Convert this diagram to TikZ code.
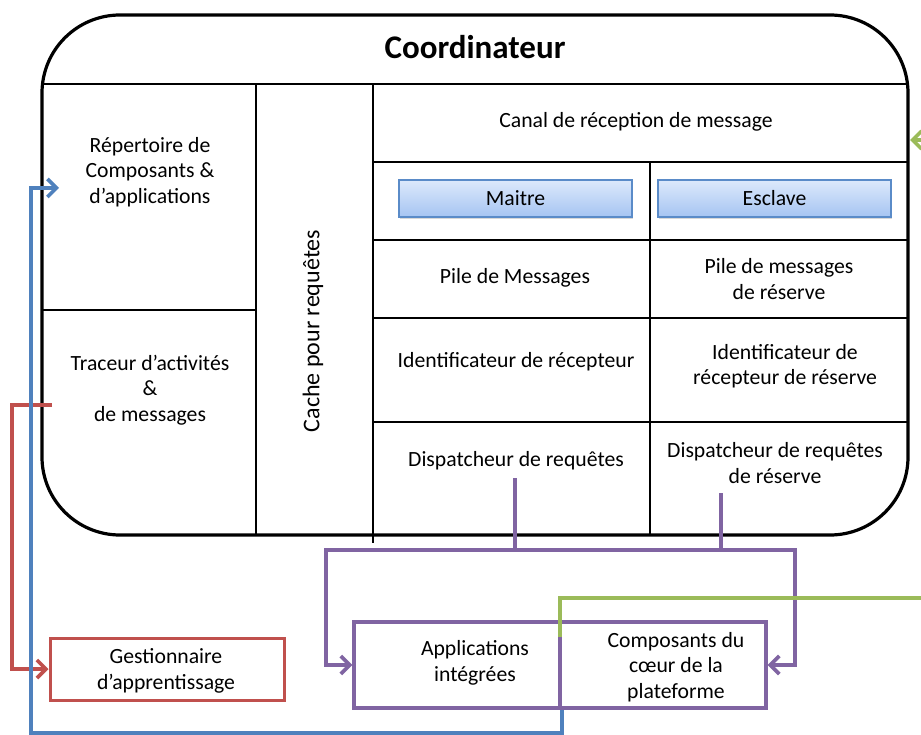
\documentclass[tikz,border=0pt]{standalone}
\usepackage{fontspec}
\setmainfont{Carlito}
\usetikzlibrary{arrows.meta,shadows}

\definecolor{ored}{HTML}{C0504D}
\definecolor{oblue}{HTML}{4F81BD}
\definecolor{opurple}{HTML}{8064A2}
\definecolor{ogreen}{HTML}{9BBB59}
\definecolor{btntop}{HTML}{DDE9FB}
\definecolor{btnbot}{HTML}{A5C4F2}
\definecolor{btnedge}{HTML}{5A8BC8}

\newcommand{\txtsize}{\fontsize{21.7}{25.5}\selectfont}

\tikzset{
  outerframe/.style={line width=3.2pt, rounded corners=78pt},
  divider/.style={line width=2pt},
  celltext/.style={align=center, font=\txtsize, inner sep=0pt},
  button/.style={draw=btnedge, line width=1.4pt, top color=btntop, bottom color=btnbot,
    minimum width=233pt, minimum height=37pt, font=\txtsize,
    drop shadow={shadow xshift=1pt, shadow yshift=-2pt, opacity=0.3}},
  outbox/.style={line width=3.4pt, minimum height=86pt},
  conn/.style={line width=3.6pt, -{Straight Barb[length=9pt,width=18pt]}},
  bus/.style={line width=3.6pt, draw=opurple},
}

\begin{document}
\begin{tikzpicture}[x=1pt, y=-1pt]
  \useasboundingbox (0,0) rectangle (921,735);
  \fill[white] (0,0) rectangle (921,735);
  \clip (0,0) rectangle (921,735);

  % coordinator frame and its grid
  \draw[outerframe] (42,15) rectangle (908,535);
  \draw[divider] (42,84) -- (908,84);
  \draw[divider] (256,84) -- (256,535);
  \draw[divider] (373,84) -- (373,543);
  \draw[divider] (42,310) -- (256,310);
  \draw[divider] (373,162) -- (908,162);
  \draw[divider] (650,162) -- (650,535);
  \draw[divider] (373,240) -- (908,240);
  \draw[divider] (373,318) -- (908,318);
  \draw[divider] (373,422) -- (908,422);

  % cell contents
  \node[font=\bfseries\fontsize{33}{38}\selectfont] (title) at (475,47) {Coordinateur};
  \node[celltext] (repert) at (150,172) {Répertoire de\\Composants \&\\d’applications};
  \node[celltext] (traceur) at (150,390) {Traceur d’activités\\\&\\de messages};
  \node[celltext, rotate=90, font=\fontsize{24}{28}\selectfont] (cache) at (313,331) {Cache pour requêtes};
  \node[celltext] (canal) at (636,122) {Canal de réception de message};
  \node[button] (maitre) at (515.5,198.5) {Maitre};
  \node[button] (esclave) at (774.5,198.5) {Esclave};
  \node[celltext] (pileA) at (515,278) {Pile de Messages};
  \node[celltext] (pileB) at (779,279) {Pile de messages\\de réserve};
  \node[celltext] (identA) at (516,362) {Identificateur de récepteur};
  \node[celltext] (identB) at (785,366) {Identificateur de\\récepteur de réserve};
  \node[celltext] (dispA) at (516,461) {Dispatcheur de requêtes};
  \node[celltext] (dispB) at (775,463) {Dispatcheur de requêtes\\de réserve};

  % outside components
  \node[outbox, draw=ored, line width=3pt, minimum width=234pt, minimum height=62pt] (gest) at (167,669) {};
  \node[celltext] (gesttext) at (166,671) {Gestionnaire\\d’apprentissage};
  \node[outbox, draw=opurple, minimum width=206pt] (apps) at (457,665) {};
  \node[outbox, draw=opurple, minimum width=206pt] (comp) at (663,665) {};
  \node[celltext] (appstext) at (475,663) {Applications\\intégrées};
  \node[celltext] (comptext) at (676,667) {Composants du\\cœur de la\\plateforme};

  % connector end points
  \coordinate (dispAout) at (515,478);
  \coordinate (dispBout) at (721,493);
  \coordinate (busL) at (326,550);
  \coordinate (busR) at (795,550);
  \coordinate (traceOut) at (52,405);
  \coordinate (redTurn) at (12,405);
  \coordinate (repIn) at (59,188);
  \coordinate (blueCorner) at (31,733);
  \coordinate (greenStart) at (560,637);
  \coordinate (greenFar) at (935,598);
  \coordinate (canalIn) at (910,140);

  % dispatchers to applications and core components
  \draw[bus] (dispBout) -- (dispBout |- busR);
  \draw[conn, draw=opurple] (dispAout) |- (busL) |- (apps.west);
  \draw[conn, draw=opurple] (dispAout) |- (busR) |- (comp.east);

  % activity tracer to learning manager
  \draw[conn, draw=ored] (traceOut) -- (redTurn) |- (gest.west);

  % applications back to the directory
  \draw[conn, draw=oblue] (apps.south east) |- (blueCorner) |- (repIn);

  % core components to the reception channel
  \draw[conn, draw=ogreen] (greenStart) |- (greenFar) |- (canalIn);
\end{tikzpicture}
\end{document}
